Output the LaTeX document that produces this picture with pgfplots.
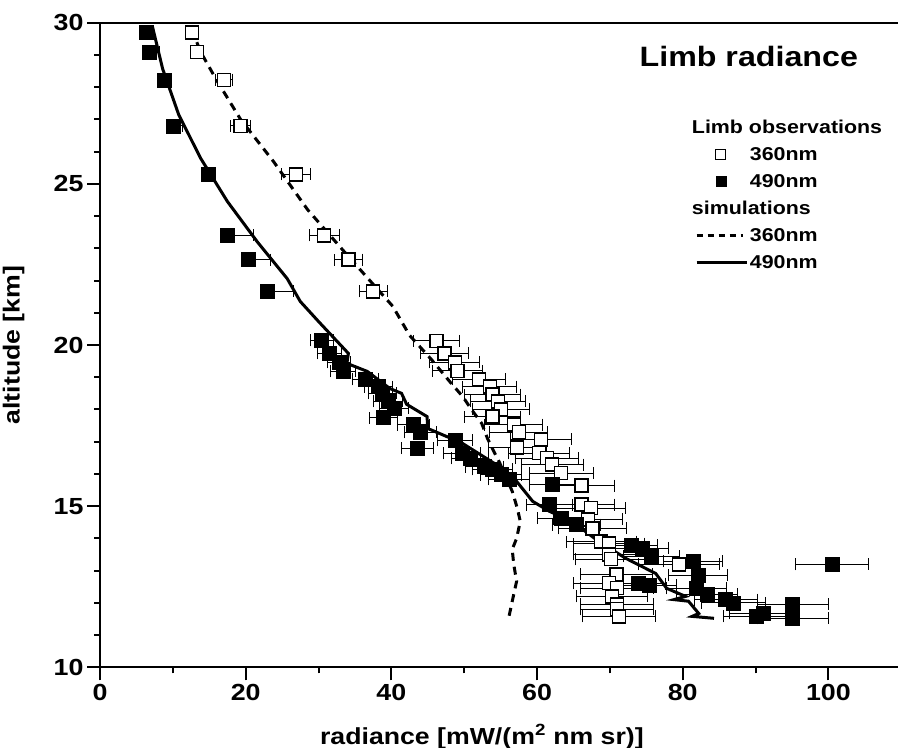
\documentclass[border=0pt]{standalone}
\usepackage{fontspec}
\setmainfont{Liberation Sans}[FakeStretch=1.15]
\usepackage{pgfplots}
\pgfplotsset{compat=1.18}
\usepackage{pgfplotstable}
\usetikzlibrary{calc}

\pgfplotstableread{
x y e
12.6 29.7 0.4
13.3 29.1 0.5
17.0 28.23 1.2
19.3 26.8 1.4
26.9 25.29 2.0
30.8 23.4 2.1
34.1 22.65 1.9
37.5 21.66 1.9
46.2 20.13 3.2
47.3 19.74 3.3
48.7 19.46 3.4
49.1 19.2 3.4
52.0 18.93 3.6
53.5 18.71 3.7
53.9 18.46 3.8
54.6 18.25 3.8
55.1 18.0 3.9
53.9 17.78 3.8
56.8 17.53 4.0
57.5 17.29 4.0
60.5 17.07 4.2
57.3 16.82 4.0
60.3 16.64 4.2
61.4 16.49 4.3
62.1 16.29 4.3
63.3 16.02 4.4
66.1 15.64 4.6
66.1 15.05 4.6
67.4 14.94 4.7
67.0 14.59 4.7
67.6 14.31 4.7
68.8 13.9 4.8
69.9 13.84 4.9
69.9 13.5 4.9
70.2 13.35 4.9
79.5 13.19 5.6
70.9 12.88 5.0
69.9 12.61 4.9
71.0 12.45 5.0
70.3 12.2 4.9
71.0 11.95 5.0
71.0 11.8 5.0
71.3 11.58 5.0
}\obsA

\pgfplotstableread{
x y ep em
6.4 29.7 0.3 0.3
6.7 29.1 1.5 0.3
8.8 28.23 0.4 0.4
10.05 26.8 1.3 0.4
14.8 25.29 0.7 0.7
17.5 23.4 3.6 0.6
20.4 22.65 3.0 0.6
23.0 21.66 3.5 0.9
30.4 20.14 1.6 1.5
31.5 19.74 1.6 1.6
32.8 19.46 1.6 1.6
33.4 19.18 1.7 1.7
36.4 18.93 1.8 1.8
38.2 18.71 1.9 1.9
38.8 18.5 1.9 1.9
39.5 18.25 2.0 2.0
40.4 18.03 2.0 2.0
38.9 17.75 1.9 1.9
43.0 17.53 2.2 2.2
44.0 17.29 2.2 2.2
43.6 16.8 2.2 2.2
48.7 17.04 2.4 2.4
49.7 16.64 2.5 2.5
50.8 16.48 2.5 2.5
52.8 16.23 2.6 2.6
53.9 16.14 2.7 2.7
55.1 15.98 2.8 2.8
56.2 15.83 2.8 2.8
62.1 15.67 3.1 3.1
61.7 15.05 3.1 3.1
63.3 14.63 3.2 3.2
65.4 14.43 3.3 3.3
72.9 13.78 3.6 3.6
74.4 13.69 3.7 3.7
75.7 13.44 3.8 3.8
81.4 13.29 4.1 4.1
82.1 12.85 4.1 4.1
73.9 12.6 3.7 3.7
75.4 12.54 3.8 3.8
81.9 12.45 4.1 4.1
83.3 12.26 4.2 4.2
85.9 12.1 4.3 4.3
87.0 12.0 4.4 4.4
95.1 11.95 4.9 4.9
90.1 11.58 4.5 4.5
91.0 11.67 4.6 4.6
95.1 11.52 4.9 4.9
100.5 13.19 5.0 5.0
}\obsB

\pgfplotstableread{
x y
12.6 29.8
13.8 29.1
15.9 28.26
19.3 27.0
23.8 25.7
28.5 24.2
33.9 22.8
40.2 21.2
42.5 20.3
45.5 19.55
48.0 18.87
49.8 18.4
51.0 18.0
52.4 17.57
53.2 17.1
54.2 16.64
54.9 16.33
56.6 15.46
57.3 14.93
57.7 14.53
57.2 14.0
56.6 13.66
56.8 13.2
57.2 12.67
56.6 12.05
56.1 11.52
}\simA

\pgfplotstableread{
x y
7.2 29.88
8.6 28.57
10.8 27.15
13.8 25.8
17.5 24.45
21.6 23.2
25.7 22.06
27.5 21.35
30.0 20.73
34.1 19.74
33.9 19.43
36.7 19.18
39.8 18.65
41.4 18.5
42.1 18.16
44.9 17.78
45.0 17.41
47.6 17.16
49.4 17.0
50.8 16.8
54.4 16.29
57.2 15.77
59.4 15.15
61.7 14.84
64.8 14.53
68.5 13.9
72.2 13.38
76.3 12.91
77.8 12.45
80.4 12.2
78.8 12.1
80.8 12.05
82.2 11.67
81.3 11.58
84.3 11.52
}\simB

\begin{document}
\begin{tikzpicture}
\begin{axis}[
  name=ax,
  scale only axis,
  width=799bp, height=644.6bp,
  xmin=0, xmax=109.7, ymin=10, ymax=30,
  axis line style={line width=2bp},
  xtick={0,20,...,100}, ytick={10,15,...,30},
  minor x tick num=1, minor y tick num=4,
  xtick pos=left, ytick pos=left,
  tick align=outside,
  major tick length=13bp, minor tick length=6bp,
  every tick/.style={black, line width=2bp},
  /pgf/number format/assume math mode=true,
  ticklabel style={font=\fontsize{23.3bp}{28bp}\selectfont\bfseries},
  xlabel={radiance [mW/(m\textsuperscript{2} nm sr)]},
  ylabel={altitude [km]},
  every axis x label/.style={at={(axis description cs:0.478,-0.119)}, anchor=base,
    font=\fontsize{23.2bp}{28bp}\selectfont\bfseries},
  every axis y label/.style={at={(axis description cs:-0.108,0.5)}, rotate=90, anchor=center,
    font=\fontsize{23.2bp}{28bp}\selectfont\bfseries},
  legend cell align=left,
  legend style={draw=none, fill=none, inner sep=0pt, at={(axis description cs:0.745,0.853)}, anchor=north west,
    font=\fontsize{18.6bp}{22bp}\selectfont\bfseries, row sep=8.5bp,
    /tikz/every even column/.append style={column sep=10bp}},
]
\addplot[forget plot, only marks, mark=square*, mark size=6.5bp,
  mark options={fill=white, draw=black, line width=1.3bp},
  error bars/.cd, x dir=both, x explicit,
  error bar style={line width=0.9bp, black}, error mark=|,
  error mark options={mark size=6bp, line width=0.9bp}]
  table[x=x, y=y, x error=e] {\obsA};
\addplot[forget plot, only marks, mark=square*, mark size=7bp,
  mark options={fill=black, draw=black},
  error bars/.cd, x dir=both, x explicit,
  error bar style={line width=0.9bp, black}, error mark=|,
  error mark options={mark size=6bp, line width=0.9bp}]
  table[x=x, y=y, x error plus=ep, x error minus=em] {\obsB};
\addplot[forget plot, black, line width=3bp, dash pattern=on 8bp off 6bp] table[x=x,y=y] {\simA};
\addplot[forget plot, black, line width=3bp] table[x=x,y=y] {\simB};

\addlegendimage{empty legend}
\addlegendentry{\hspace*{-58bp}Limb observations}
\addlegendimage{legend image code/.code={\draw[mark=square*, mark size=5bp, mark options={fill=white, draw=black, line width=1.3bp}] plot coordinates {(24bp,0bp)};}}
\addlegendentry{360nm}
\addlegendimage{legend image code/.code={\draw[mark=square*, mark size=5bp, mark options={fill=black, draw=black}] plot coordinates {(24bp,0bp)};}}
\addlegendentry{490nm}
\addlegendimage{empty legend}
\addlegendentry{\hspace*{-58bp}simulations}
\addlegendimage{legend image code/.code={\draw[black, line width=2.5bp, dash pattern=on 6bp off 5bp] (0bp,0bp) -- (46bp,0bp);}}
\addlegendentry{360nm}
\addlegendimage{legend image code/.code={\draw[black, line width=2.5bp] (0bp,0bp) -- (50bp,0bp);}}
\addlegendentry{490nm}

\node[anchor=base, font=\fontsize{28bp}{34bp}\selectfont\bfseries] at (axis description cs:0.812,0.932) {Limb radiance};
\end{axis}
\pgfresetboundingbox
\path[use as bounding box] ($(ax.south west)+(-100bp,-80.7bp)$) rectangle ($(ax.north east)+(-1bp,22.7bp)$);
\end{tikzpicture}
\end{document}
